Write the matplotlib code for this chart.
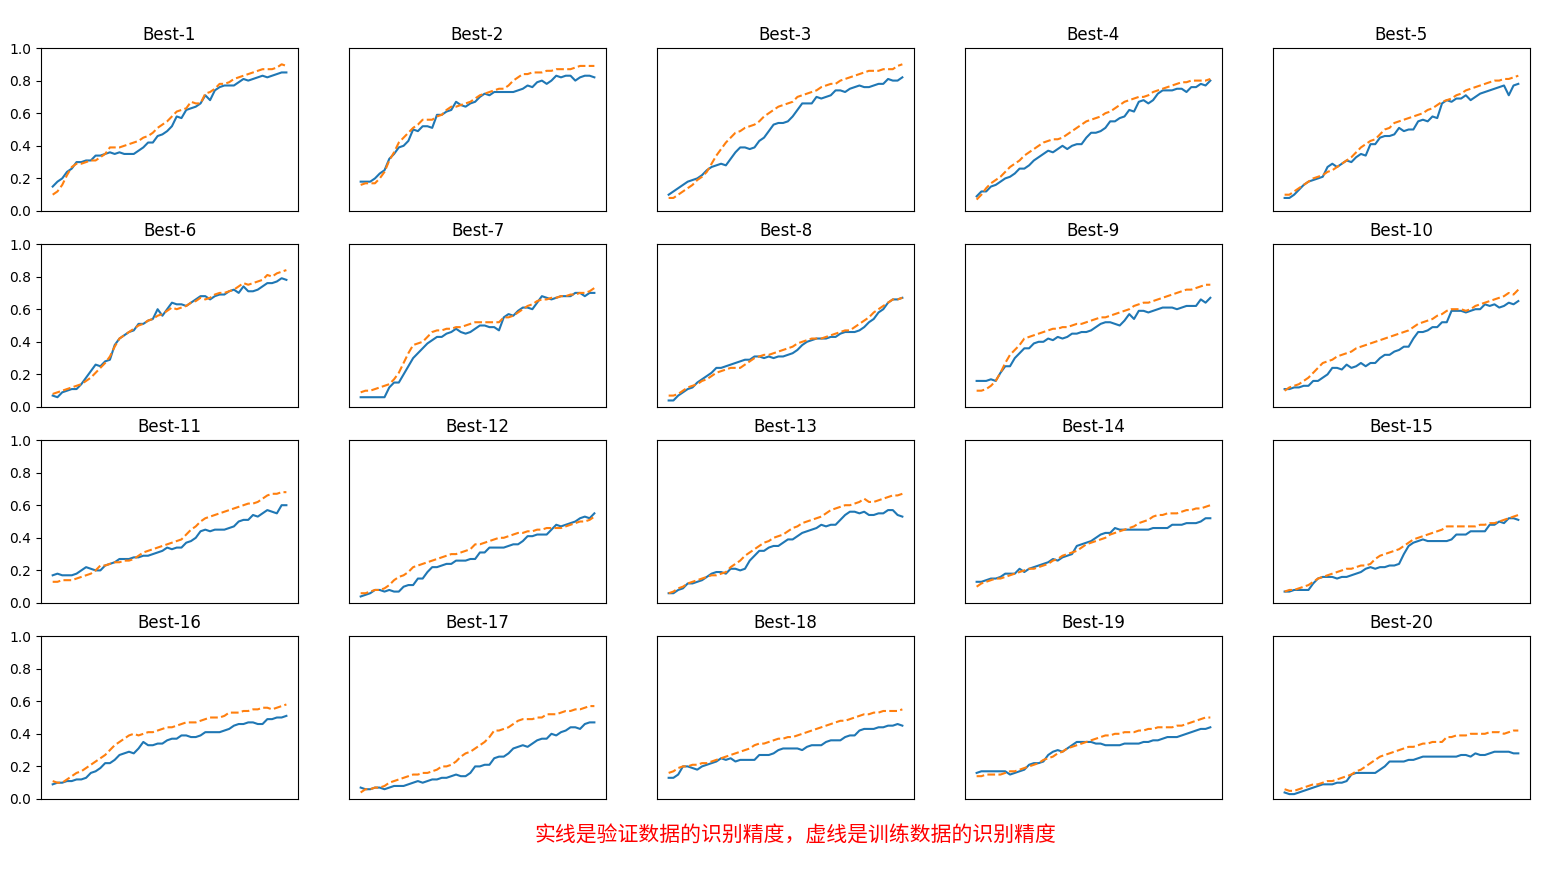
"""
Grid of accuracy curves for the 20 best hyper-parameter settings
(solid = validation accuracy, dashed = training accuracy)
"""
import numpy as np
import matplotlib
matplotlib.use('Agg')
import matplotlib.pyplot as plt

titles = ['Best-%d' % (i + 1) for i in range(20)]

# validation accuracy (solid blue), one list of 50 epochs per setting
val_acc = [
    [0.15, 0.18, 0.20, 0.24, 0.26, 0.30, 0.30, 0.31, 0.31, 0.34, 0.34, 0.35, 0.36, 0.35, 0.36, 0.35, 0.35, 0.35, 0.37, 0.39,
     0.42, 0.42, 0.46, 0.47, 0.49, 0.52, 0.58, 0.57, 0.62, 0.63, 0.64, 0.66, 0.71, 0.68, 0.74, 0.76, 0.77, 0.77, 0.77, 0.79,
     0.81, 0.80, 0.81, 0.82, 0.83, 0.82, 0.83, 0.84, 0.85, 0.85],
    [0.18, 0.18, 0.18, 0.20, 0.23, 0.25, 0.32, 0.35, 0.39, 0.40, 0.43, 0.50, 0.49, 0.52, 0.52, 0.51, 0.59, 0.59, 0.61, 0.62,
     0.67, 0.65, 0.64, 0.66, 0.67, 0.70, 0.72, 0.71, 0.73, 0.73, 0.73, 0.73, 0.73, 0.74, 0.75, 0.77, 0.76, 0.79, 0.80, 0.78,
     0.80, 0.83, 0.82, 0.83, 0.83, 0.80, 0.82, 0.83, 0.83, 0.82],
    [0.10, 0.12, 0.14, 0.16, 0.18, 0.19, 0.20, 0.22, 0.25, 0.27, 0.28, 0.29, 0.28, 0.32, 0.36, 0.39, 0.39, 0.38, 0.39, 0.43,
     0.45, 0.49, 0.53, 0.54, 0.54, 0.55, 0.58, 0.62, 0.66, 0.66, 0.66, 0.70, 0.69, 0.70, 0.71, 0.74, 0.74, 0.73, 0.75, 0.76,
     0.77, 0.76, 0.76, 0.77, 0.78, 0.78, 0.81, 0.80, 0.80, 0.82],
    [0.09, 0.12, 0.12, 0.15, 0.16, 0.18, 0.20, 0.21, 0.23, 0.26, 0.26, 0.28, 0.31, 0.33, 0.35, 0.37, 0.36, 0.38, 0.40, 0.38,
     0.40, 0.41, 0.41, 0.45, 0.48, 0.48, 0.49, 0.51, 0.55, 0.55, 0.57, 0.58, 0.62, 0.61, 0.67, 0.68, 0.66, 0.68, 0.72, 0.74,
     0.74, 0.74, 0.75, 0.75, 0.73, 0.76, 0.76, 0.78, 0.77, 0.80],
    [0.08, 0.08, 0.10, 0.13, 0.16, 0.18, 0.19, 0.20, 0.21, 0.27, 0.29, 0.27, 0.29, 0.31, 0.30, 0.33, 0.35, 0.34, 0.41, 0.41,
     0.45, 0.46, 0.46, 0.47, 0.51, 0.49, 0.50, 0.50, 0.55, 0.56, 0.55, 0.58, 0.57, 0.66, 0.68, 0.67, 0.69, 0.69, 0.71, 0.68,
     0.70, 0.72, 0.73, 0.74, 0.75, 0.76, 0.77, 0.71, 0.77, 0.78],
    [0.07, 0.06, 0.09, 0.10, 0.11, 0.11, 0.14, 0.18, 0.22, 0.26, 0.25, 0.28, 0.29, 0.38, 0.42, 0.44, 0.46, 0.47, 0.51, 0.51,
     0.53, 0.54, 0.60, 0.56, 0.60, 0.64, 0.63, 0.63, 0.62, 0.64, 0.66, 0.68, 0.68, 0.66, 0.68, 0.69, 0.69, 0.71, 0.72, 0.70,
     0.74, 0.71, 0.71, 0.72, 0.74, 0.76, 0.76, 0.77, 0.79, 0.78],
    [0.06, 0.06, 0.06, 0.06, 0.06, 0.06, 0.12, 0.15, 0.15, 0.20, 0.25, 0.30, 0.33, 0.36, 0.39, 0.41, 0.43, 0.43, 0.45, 0.46,
     0.48, 0.46, 0.45, 0.46, 0.48, 0.50, 0.50, 0.49, 0.49, 0.47, 0.55, 0.57, 0.56, 0.59, 0.61, 0.61, 0.60, 0.64, 0.68, 0.67,
     0.66, 0.67, 0.68, 0.68, 0.68, 0.70, 0.70, 0.68, 0.70, 0.70],
    [0.04, 0.04, 0.07, 0.09, 0.11, 0.12, 0.15, 0.17, 0.19, 0.21, 0.24, 0.24, 0.25, 0.26, 0.27, 0.28, 0.29, 0.29, 0.31, 0.31,
     0.30, 0.31, 0.30, 0.31, 0.31, 0.32, 0.33, 0.35, 0.38, 0.40, 0.41, 0.42, 0.42, 0.42, 0.43, 0.43, 0.45, 0.46, 0.46, 0.46,
     0.47, 0.49, 0.52, 0.54, 0.58, 0.60, 0.64, 0.66, 0.66, 0.67],
    [0.16, 0.16, 0.16, 0.17, 0.16, 0.21, 0.25, 0.25, 0.30, 0.33, 0.36, 0.36, 0.39, 0.40, 0.40, 0.42, 0.41, 0.43, 0.42, 0.43,
     0.45, 0.45, 0.46, 0.46, 0.47, 0.49, 0.51, 0.52, 0.52, 0.51, 0.50, 0.53, 0.57, 0.54, 0.59, 0.59, 0.58, 0.59, 0.60, 0.61,
     0.61, 0.61, 0.60, 0.61, 0.62, 0.62, 0.62, 0.66, 0.64, 0.67],
    [0.11, 0.11, 0.12, 0.12, 0.13, 0.13, 0.16, 0.16, 0.18, 0.20, 0.24, 0.24, 0.23, 0.26, 0.24, 0.25, 0.27, 0.25, 0.27, 0.27,
     0.30, 0.32, 0.32, 0.34, 0.35, 0.37, 0.37, 0.42, 0.46, 0.46, 0.47, 0.49, 0.49, 0.52, 0.52, 0.59, 0.59, 0.59, 0.58, 0.59,
     0.60, 0.60, 0.63, 0.62, 0.63, 0.61, 0.62, 0.64, 0.63, 0.65],
    [0.17, 0.18, 0.17, 0.17, 0.17, 0.18, 0.20, 0.22, 0.21, 0.20, 0.20, 0.23, 0.24, 0.25, 0.27, 0.27, 0.27, 0.28, 0.28, 0.29,
     0.29, 0.30, 0.31, 0.32, 0.34, 0.33, 0.34, 0.34, 0.37, 0.38, 0.40, 0.44, 0.45, 0.44, 0.45, 0.45, 0.45, 0.46, 0.47, 0.50,
     0.51, 0.51, 0.54, 0.53, 0.55, 0.57, 0.56, 0.55, 0.60, 0.60],
    [0.04, 0.05, 0.06, 0.08, 0.08, 0.07, 0.08, 0.07, 0.07, 0.10, 0.11, 0.11, 0.15, 0.15, 0.19, 0.22, 0.22, 0.23, 0.24, 0.24,
     0.26, 0.26, 0.26, 0.27, 0.27, 0.31, 0.31, 0.34, 0.34, 0.34, 0.34, 0.35, 0.36, 0.36, 0.38, 0.41, 0.41, 0.42, 0.42, 0.42,
     0.45, 0.48, 0.47, 0.48, 0.49, 0.50, 0.52, 0.53, 0.52, 0.55],
    [0.06, 0.06, 0.08, 0.09, 0.12, 0.12, 0.13, 0.14, 0.16, 0.18, 0.19, 0.19, 0.18, 0.21, 0.21, 0.20, 0.21, 0.26, 0.29, 0.32,
     0.32, 0.34, 0.35, 0.35, 0.37, 0.39, 0.39, 0.41, 0.43, 0.44, 0.45, 0.46, 0.48, 0.47, 0.48, 0.48, 0.51, 0.54, 0.56, 0.56,
     0.55, 0.56, 0.54, 0.54, 0.55, 0.55, 0.57, 0.57, 0.54, 0.53],
    [0.13, 0.13, 0.14, 0.15, 0.15, 0.16, 0.18, 0.18, 0.18, 0.21, 0.19, 0.21, 0.22, 0.23, 0.24, 0.25, 0.27, 0.26, 0.28, 0.29,
     0.30, 0.35, 0.36, 0.37, 0.38, 0.40, 0.42, 0.43, 0.43, 0.46, 0.45, 0.45, 0.45, 0.45, 0.45, 0.45, 0.45, 0.46, 0.46, 0.46,
     0.46, 0.48, 0.48, 0.48, 0.49, 0.49, 0.49, 0.50, 0.52, 0.52],
    [0.07, 0.07, 0.08, 0.08, 0.08, 0.08, 0.12, 0.15, 0.16, 0.16, 0.16, 0.15, 0.16, 0.16, 0.17, 0.18, 0.19, 0.21, 0.22, 0.21,
     0.22, 0.22, 0.23, 0.23, 0.24, 0.30, 0.35, 0.37, 0.38, 0.39, 0.38, 0.38, 0.38, 0.38, 0.38, 0.39, 0.42, 0.42, 0.42, 0.44,
     0.44, 0.44, 0.44, 0.48, 0.48, 0.50, 0.49, 0.52, 0.52, 0.51],
    [0.09, 0.10, 0.10, 0.11, 0.11, 0.12, 0.12, 0.13, 0.16, 0.17, 0.19, 0.22, 0.22, 0.24, 0.27, 0.28, 0.29, 0.28, 0.31, 0.35,
     0.33, 0.33, 0.34, 0.34, 0.36, 0.37, 0.37, 0.39, 0.39, 0.38, 0.38, 0.39, 0.41, 0.41, 0.41, 0.41, 0.42, 0.43, 0.45, 0.46,
     0.46, 0.47, 0.47, 0.46, 0.46, 0.49, 0.49, 0.50, 0.50, 0.51],
    [0.07, 0.06, 0.06, 0.07, 0.07, 0.06, 0.07, 0.08, 0.08, 0.08, 0.09, 0.10, 0.11, 0.10, 0.11, 0.12, 0.12, 0.13, 0.13, 0.14,
     0.15, 0.14, 0.14, 0.16, 0.20, 0.20, 0.21, 0.21, 0.25, 0.26, 0.26, 0.28, 0.31, 0.32, 0.33, 0.32, 0.34, 0.36, 0.37, 0.37,
     0.40, 0.39, 0.41, 0.42, 0.44, 0.44, 0.43, 0.46, 0.47, 0.47],
    [0.13, 0.13, 0.15, 0.20, 0.20, 0.19, 0.18, 0.20, 0.21, 0.22, 0.23, 0.25, 0.24, 0.25, 0.23, 0.24, 0.24, 0.24, 0.24, 0.27,
     0.27, 0.27, 0.28, 0.30, 0.31, 0.31, 0.31, 0.31, 0.30, 0.32, 0.33, 0.33, 0.33, 0.35, 0.36, 0.36, 0.36, 0.38, 0.39, 0.39,
     0.42, 0.43, 0.43, 0.43, 0.44, 0.44, 0.45, 0.45, 0.46, 0.45],
    [0.16, 0.17, 0.17, 0.17, 0.17, 0.17, 0.17, 0.15, 0.16, 0.17, 0.18, 0.21, 0.22, 0.22, 0.23, 0.27, 0.29, 0.30, 0.29, 0.31,
     0.33, 0.35, 0.35, 0.35, 0.35, 0.34, 0.34, 0.33, 0.33, 0.33, 0.33, 0.34, 0.34, 0.34, 0.34, 0.35, 0.35, 0.36, 0.36, 0.37,
     0.38, 0.38, 0.38, 0.39, 0.40, 0.41, 0.42, 0.43, 0.43, 0.44],
    [0.04, 0.03, 0.03, 0.04, 0.05, 0.06, 0.07, 0.08, 0.09, 0.09, 0.09, 0.10, 0.10, 0.11, 0.15, 0.16, 0.16, 0.16, 0.16, 0.16,
     0.18, 0.20, 0.23, 0.23, 0.23, 0.23, 0.24, 0.24, 0.25, 0.26, 0.26, 0.26, 0.26, 0.26, 0.26, 0.26, 0.26, 0.27, 0.27, 0.26,
     0.28, 0.27, 0.27, 0.28, 0.29, 0.29, 0.29, 0.29, 0.28, 0.28],
]

# training accuracy (dashed orange)
train_acc = [
    [0.10, 0.12, 0.16, 0.22, 0.27, 0.29, 0.29, 0.30, 0.31, 0.31, 0.33, 0.35, 0.39, 0.39, 0.39, 0.40, 0.41, 0.42, 0.43, 0.45,
     0.46, 0.48, 0.51, 0.53, 0.55, 0.58, 0.61, 0.62, 0.63, 0.67, 0.66, 0.66, 0.72, 0.73, 0.75, 0.78, 0.78, 0.79, 0.81, 0.82,
     0.83, 0.84, 0.85, 0.86, 0.87, 0.87, 0.87, 0.88, 0.90, 0.89],
    [0.16, 0.17, 0.17, 0.17, 0.20, 0.24, 0.31, 0.36, 0.42, 0.45, 0.48, 0.51, 0.53, 0.56, 0.56, 0.56, 0.58, 0.59, 0.62, 0.64,
     0.64, 0.65, 0.66, 0.67, 0.69, 0.71, 0.72, 0.73, 0.74, 0.75, 0.75, 0.77, 0.80, 0.82, 0.84, 0.84, 0.85, 0.85, 0.85, 0.86,
     0.86, 0.87, 0.87, 0.87, 0.87, 0.88, 0.89, 0.89, 0.89, 0.89],
    [0.08, 0.08, 0.10, 0.12, 0.14, 0.16, 0.19, 0.21, 0.24, 0.29, 0.34, 0.38, 0.42, 0.45, 0.48, 0.49, 0.51, 0.52, 0.53, 0.55,
     0.58, 0.60, 0.62, 0.64, 0.65, 0.66, 0.67, 0.70, 0.71, 0.72, 0.73, 0.74, 0.76, 0.77, 0.78, 0.78, 0.80, 0.81, 0.82, 0.83,
     0.84, 0.85, 0.86, 0.86, 0.86, 0.87, 0.87, 0.87, 0.89, 0.90],
    [0.07, 0.10, 0.14, 0.17, 0.19, 0.21, 0.24, 0.27, 0.29, 0.31, 0.34, 0.36, 0.38, 0.40, 0.42, 0.43, 0.44, 0.44, 0.45, 0.47,
     0.49, 0.51, 0.53, 0.55, 0.56, 0.57, 0.58, 0.60, 0.61, 0.63, 0.65, 0.67, 0.68, 0.69, 0.70, 0.70, 0.71, 0.73, 0.74, 0.75,
     0.76, 0.77, 0.78, 0.79, 0.79, 0.80, 0.80, 0.80, 0.80, 0.81],
    [0.10, 0.10, 0.12, 0.14, 0.16, 0.18, 0.20, 0.21, 0.22, 0.24, 0.25, 0.27, 0.29, 0.31, 0.33, 0.36, 0.39, 0.41, 0.43, 0.44,
     0.47, 0.50, 0.51, 0.54, 0.55, 0.56, 0.57, 0.58, 0.59, 0.60, 0.62, 0.63, 0.65, 0.67, 0.68, 0.69, 0.71, 0.72, 0.74, 0.75,
     0.76, 0.77, 0.78, 0.79, 0.80, 0.80, 0.81, 0.81, 0.82, 0.83],
    [0.08, 0.09, 0.10, 0.11, 0.12, 0.13, 0.14, 0.16, 0.18, 0.21, 0.24, 0.27, 0.31, 0.37, 0.42, 0.44, 0.46, 0.48, 0.50, 0.51,
     0.53, 0.54, 0.56, 0.57, 0.59, 0.61, 0.60, 0.61, 0.62, 0.64, 0.65, 0.67, 0.66, 0.67, 0.69, 0.70, 0.70, 0.71, 0.72, 0.74,
     0.76, 0.75, 0.76, 0.77, 0.78, 0.81, 0.80, 0.82, 0.83, 0.84],
    [0.09, 0.10, 0.10, 0.11, 0.12, 0.13, 0.14, 0.17, 0.21, 0.27, 0.33, 0.38, 0.39, 0.40, 0.43, 0.46, 0.47, 0.47, 0.48, 0.48,
     0.49, 0.49, 0.50, 0.51, 0.52, 0.52, 0.52, 0.52, 0.52, 0.52, 0.55, 0.55, 0.56, 0.58, 0.60, 0.62, 0.63, 0.65, 0.66, 0.66,
     0.67, 0.67, 0.68, 0.68, 0.69, 0.69, 0.70, 0.70, 0.71, 0.73],
    [0.07, 0.07, 0.08, 0.10, 0.12, 0.13, 0.14, 0.16, 0.17, 0.19, 0.21, 0.22, 0.23, 0.24, 0.24, 0.24, 0.26, 0.28, 0.30, 0.31,
     0.32, 0.32, 0.33, 0.34, 0.35, 0.36, 0.37, 0.39, 0.40, 0.41, 0.42, 0.42, 0.42, 0.43, 0.44, 0.45, 0.46, 0.47, 0.47, 0.49,
     0.51, 0.53, 0.55, 0.58, 0.60, 0.62, 0.64, 0.66, 0.66, 0.67],
    [0.10, 0.10, 0.11, 0.13, 0.16, 0.21, 0.27, 0.32, 0.35, 0.38, 0.42, 0.43, 0.44, 0.45, 0.46, 0.47, 0.48, 0.48, 0.49, 0.49,
     0.50, 0.51, 0.51, 0.52, 0.53, 0.54, 0.55, 0.55, 0.56, 0.57, 0.58, 0.59, 0.60, 0.62, 0.63, 0.64, 0.64, 0.65, 0.66, 0.67,
     0.68, 0.69, 0.70, 0.71, 0.72, 0.72, 0.73, 0.74, 0.75, 0.75],
    [0.10, 0.12, 0.13, 0.14, 0.16, 0.18, 0.21, 0.24, 0.27, 0.28, 0.29, 0.31, 0.32, 0.33, 0.34, 0.36, 0.37, 0.38, 0.39, 0.40,
     0.41, 0.42, 0.43, 0.44, 0.45, 0.46, 0.47, 0.49, 0.51, 0.52, 0.53, 0.54, 0.56, 0.57, 0.59, 0.60, 0.60, 0.60, 0.59, 0.60,
     0.62, 0.63, 0.64, 0.65, 0.66, 0.67, 0.68, 0.70, 0.69, 0.72],
    [0.13, 0.13, 0.14, 0.14, 0.14, 0.15, 0.16, 0.17, 0.18, 0.20, 0.23, 0.23, 0.24, 0.25, 0.25, 0.26, 0.26, 0.27, 0.29, 0.31,
     0.32, 0.33, 0.34, 0.35, 0.36, 0.37, 0.38, 0.39, 0.42, 0.45, 0.47, 0.50, 0.52, 0.53, 0.54, 0.55, 0.56, 0.57, 0.58, 0.59,
     0.60, 0.61, 0.61, 0.62, 0.64, 0.66, 0.67, 0.67, 0.68, 0.68],
    [0.06, 0.06, 0.07, 0.08, 0.08, 0.09, 0.11, 0.14, 0.16, 0.17, 0.19, 0.22, 0.23, 0.24, 0.25, 0.26, 0.27, 0.28, 0.29, 0.30,
     0.30, 0.31, 0.32, 0.33, 0.36, 0.36, 0.37, 0.38, 0.39, 0.40, 0.40, 0.41, 0.42, 0.43, 0.43, 0.44, 0.44, 0.45, 0.45, 0.46,
     0.46, 0.46, 0.46, 0.47, 0.48, 0.49, 0.50, 0.50, 0.51, 0.53],
    [0.06, 0.07, 0.09, 0.10, 0.12, 0.13, 0.14, 0.15, 0.16, 0.17, 0.17, 0.18, 0.19, 0.22, 0.24, 0.26, 0.29, 0.31, 0.33, 0.35,
     0.37, 0.38, 0.40, 0.41, 0.42, 0.44, 0.46, 0.47, 0.49, 0.50, 0.51, 0.52, 0.53, 0.55, 0.57, 0.58, 0.59, 0.60, 0.60, 0.61,
     0.62, 0.64, 0.62, 0.62, 0.63, 0.64, 0.65, 0.66, 0.66, 0.67],
    [0.10, 0.12, 0.13, 0.14, 0.15, 0.15, 0.16, 0.17, 0.18, 0.19, 0.20, 0.21, 0.21, 0.22, 0.23, 0.24, 0.26, 0.27, 0.29, 0.30,
     0.31, 0.32, 0.34, 0.36, 0.37, 0.38, 0.39, 0.40, 0.42, 0.43, 0.44, 0.45, 0.46, 0.47, 0.49, 0.50, 0.51, 0.53, 0.54, 0.54,
     0.55, 0.55, 0.55, 0.56, 0.57, 0.57, 0.58, 0.58, 0.59, 0.60],
    [0.07, 0.08, 0.08, 0.09, 0.10, 0.11, 0.13, 0.15, 0.16, 0.17, 0.18, 0.19, 0.20, 0.21, 0.21, 0.22, 0.23, 0.23, 0.24, 0.27,
     0.29, 0.30, 0.31, 0.32, 0.33, 0.35, 0.37, 0.39, 0.40, 0.41, 0.42, 0.43, 0.44, 0.45, 0.47, 0.47, 0.47, 0.47, 0.47, 0.47,
     0.47, 0.48, 0.48, 0.49, 0.49, 0.50, 0.51, 0.52, 0.53, 0.54],
    [0.11, 0.10, 0.10, 0.12, 0.14, 0.16, 0.17, 0.19, 0.21, 0.23, 0.25, 0.27, 0.30, 0.33, 0.35, 0.37, 0.39, 0.40, 0.39, 0.40,
     0.41, 0.41, 0.42, 0.43, 0.44, 0.44, 0.45, 0.46, 0.47, 0.47, 0.47, 0.48, 0.49, 0.50, 0.50, 0.50, 0.51, 0.53, 0.53, 0.53,
     0.54, 0.54, 0.55, 0.55, 0.56, 0.56, 0.55, 0.56, 0.57, 0.58],
    [0.04, 0.06, 0.06, 0.07, 0.07, 0.08, 0.10, 0.11, 0.12, 0.13, 0.14, 0.15, 0.15, 0.16, 0.16, 0.17, 0.18, 0.20, 0.20, 0.21,
     0.23, 0.26, 0.28, 0.29, 0.31, 0.33, 0.35, 0.38, 0.42, 0.42, 0.43, 0.44, 0.46, 0.48, 0.49, 0.49, 0.49, 0.50, 0.50, 0.52,
     0.52, 0.52, 0.53, 0.54, 0.54, 0.55, 0.55, 0.56, 0.57, 0.57],
    [0.16, 0.17, 0.19, 0.20, 0.20, 0.21, 0.21, 0.22, 0.22, 0.23, 0.24, 0.25, 0.26, 0.27, 0.28, 0.29, 0.30, 0.31, 0.33, 0.34,
     0.34, 0.35, 0.36, 0.37, 0.37, 0.38, 0.38, 0.39, 0.40, 0.41, 0.42, 0.43, 0.44, 0.45, 0.46, 0.47, 0.48, 0.48, 0.49, 0.50,
     0.51, 0.52, 0.52, 0.53, 0.53, 0.54, 0.54, 0.54, 0.54, 0.55],
    [0.14, 0.14, 0.15, 0.15, 0.15, 0.15, 0.16, 0.17, 0.17, 0.18, 0.19, 0.20, 0.21, 0.22, 0.24, 0.25, 0.26, 0.28, 0.29, 0.31,
     0.32, 0.33, 0.34, 0.35, 0.36, 0.37, 0.38, 0.39, 0.39, 0.40, 0.40, 0.41, 0.41, 0.41, 0.42, 0.42, 0.43, 0.43, 0.44, 0.44,
     0.44, 0.44, 0.45, 0.45, 0.46, 0.47, 0.48, 0.49, 0.50, 0.50],
    [0.06, 0.05, 0.05, 0.06, 0.07, 0.08, 0.09, 0.09, 0.10, 0.11, 0.11, 0.12, 0.13, 0.14, 0.15, 0.17, 0.18, 0.20, 0.22, 0.24,
     0.26, 0.27, 0.28, 0.29, 0.30, 0.31, 0.32, 0.32, 0.33, 0.34, 0.34, 0.35, 0.35, 0.35, 0.38, 0.38, 0.39, 0.39, 0.39, 0.40,
     0.40, 0.40, 0.40, 0.41, 0.41, 0.41, 0.40, 0.41, 0.42, 0.42],
]

note = '实线是验证数据的识别精度，虚线是训练数据的识别精度'

W, H = 1543, 874
fig, axes = plt.subplots(4, 5, figsize=(W / 100, H / 100), dpi=100)
fig.subplots_adjust(left=41 / W, right=1530 / W, top=1 - 48 / H, bottom=1 - 799 / H,
                    wspace=0.198, hspace=0.2025)

for idx, ax in enumerate(axes.flat):
    val = val_acc[idx]
    train = train_acc[idx]
    ax.plot(np.arange(len(val)), val, color='C0')
    ax.plot(np.arange(len(train)), train, color='C1', linestyle='--')
    ax.set_title(titles[idx])
    ax.set_ylim(0, 1.0)
    ax.set_xticks([])
    if idx % 5 != 0:
        ax.set_yticks([])

fig.text(795.5 / W, 1 - 836 / H, note, color='red', fontsize=15,
         ha='center', va='center', family=['Noto Sans CJK SC', 'DejaVu Sans'])

fig.savefig('out.png', dpi=100)
